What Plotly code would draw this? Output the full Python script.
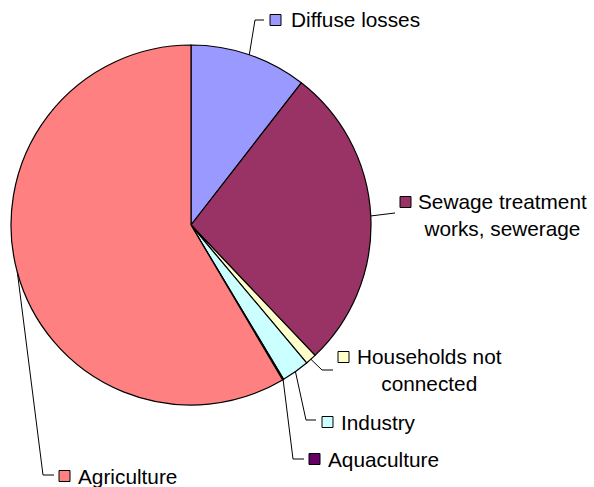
import math
import plotly.graph_objects as go

# Shares of the total load by source (%)
sources = ["Diffuse losses", "Sewage treatment works, sewerage", "Households not connected",
           "Industry", "Aquaculture", "Agriculture"]
shares = [10.5, 27.4, 1.0, 2.5, 0.1, 58.5]
colors = ["#9999FF", "#993366", "#FFFFCC", "#CCFFFF", "#660066", "#FF8080"]
label_text = ["Diffuse losses", "Sewage treatment<br>works, sewerage", "Households not<br>connected",
              "Industry", "Aquaculture", "Agriculture"]

W, H = 594, 487
CX, CY, R = 191, 225, 180  # pie centre and radius in pixels

# label layout: marker square (left x, centre y), text anchor x, leader elbow, leader end
label_layout = [
    dict(sq=(270, 20), tx=289, elbow=(255, 20), end=(264, 20)),
    dict(sq=(400, 202), tx=416, elbow=None, end=(395, 213)),
    dict(sq=(338, 357), tx=355, elbow=(322, 370), end=(333, 370)),
    dict(sq=(322, 422), tx=339, elbow=(306, 420), end=(316, 420)),
    dict(sq=(309, 459), tx=326, elbow=(293, 459), end=(304, 459)),
    dict(sq=(59, 476), tx=76, elbow=(43, 475), end=(54, 475)),
]
SQ = 11


def px(x):
    return x / W


def py(y):
    return 1 - y / H


fig = go.Figure(go.Pie(
    labels=sources, values=shares, sort=False, direction="clockwise", rotation=0,
    marker=dict(colors=colors, line=dict(color="#000000", width=1.2)),
    textinfo="none", hoverinfo="label+percent", showlegend=False,
    domain=dict(x=[px(CX - R), px(CX + R)], y=[py(CY + R), py(CY - R)]),
))

shapes, annotations = [], []
total = sum(shares)
cum = 0.0
for name, val, col, txt, lay in zip(sources, shares, colors, label_text, label_layout):
    mid = (cum + val / 2) / total * 2 * math.pi
    cum += val
    ex, ey = CX + R * math.sin(mid), CY - R * math.cos(mid)
    pts = [(ex, ey)]
    if lay["elbow"]:
        pts.append(lay["elbow"])
    pts.append(lay["end"])
    path = "M " + " L ".join(f"{px(x)},{py(y)}" for x, y in pts)
    shapes.append(dict(type="path", path=path, xref="paper", yref="paper",
                       line=dict(color="#000000", width=1)))
    sx, sy = lay["sq"]
    shapes.append(dict(type="rect", xref="paper", yref="paper",
                       x0=px(sx), x1=px(sx + SQ), y0=py(sy + SQ / 2), y1=py(sy - SQ / 2),
                       fillcolor=col, line=dict(color="#000000", width=1)))
    ty = sy + (13 if "<br>" in txt else 0)
    annotations.append(dict(text=txt, x=px(lay["tx"]), y=py(ty), xref="paper", yref="paper",
                            xanchor="left", yanchor="middle", align="center", showarrow=False,
                            font=dict(family="Liberation Sans, Arial, sans-serif", size=20.8,
                                      color="#000000")))

fig.update_layout(
    width=W, height=H, margin=dict(l=0, r=0, t=0, b=0),
    paper_bgcolor="#FFFFFF", plot_bgcolor="#FFFFFF",
    shapes=shapes, annotations=annotations,
)

fig.write_html("out.html")
